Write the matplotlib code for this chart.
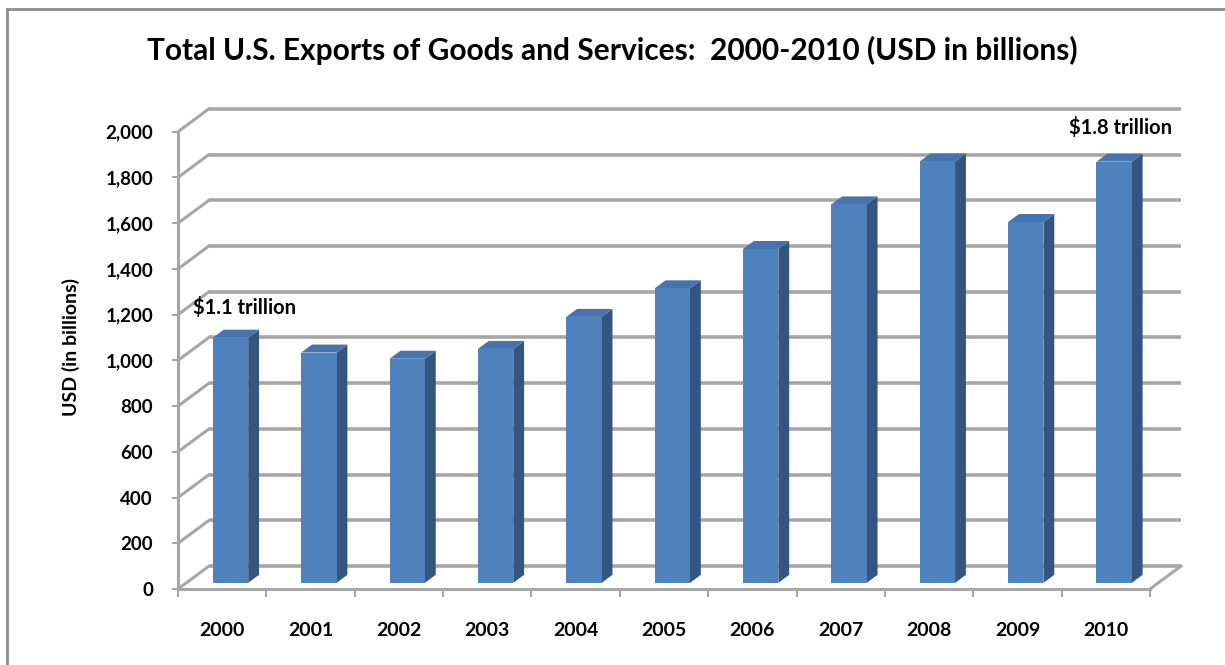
import matplotlib
matplotlib.use("Agg")
import matplotlib.pyplot as plt
from matplotlib.patches import Polygon, Rectangle
from matplotlib.lines import Line2D

plt.rcParams['font.family'] = ['Lato', 'DejaVu Sans']

# Total U.S. exports of goods and services, USD billions
years = ['2000', '2001', '2002', '2003', '2004', '2005',
         '2006', '2007', '2008', '2009', '2010']
exports = [1072, 1007, 980, 1023, 1163, 1288, 1460, 1655, 1843, 1578, 1842]
y_ticks = [0, 200, 400, 600, 800, 1000, 1200, 1400, 1600, 1800, 2000]
y_tick_labels = ['0', '200', '400', '600', '800', '1,000', '1,200',
                 '1,400', '1,600', '1,800', '2,000']
callouts = [('$1.1 trillion', 0.17, 1233, 'left'),
            ('$1.8 trillion', 11.25, 2020, 'right')]
title = 'Total U.S. Exports of Goods and Services:  2000-2010 (USD in billions)'
y_label = 'USD (in billions)'

# oblique depth offset of the chart floor, in data units
DX, DY = 0.35, 100.0
D0, D1 = 0.27, 0.62          # bar front / back depth fractions
BAR_W = 0.40                 # bar width in category units

GRID = '#A6A6A6'
FRONT = '#4F81BD'
SIDE = '#34557F'
TOP = '#4674AE'

fig = plt.figure(figsize=(12.25, 6.65), dpi=100)
ax = fig.add_axes([178 / 1225, 76 / 665, 11.45 * 88.36 / 1225, 2120 * 0.22865 / 665])
n = len(years)
ax.set_xlim(0, n + 0.45)
ax.set_ylim(0, 2120)

# back wall gridlines and left wall diagonals
for v in y_ticks:
    ax.add_line(Line2D([DX, n + DX], [v + DY, v + DY], color=GRID, lw=2.6,
                       zorder=1, solid_capstyle='butt'))
    ax.add_line(Line2D([0, DX], [v, v + DY], color=GRID, lw=2.2, zorder=1))
# floor right edge
ax.add_line(Line2D([n, n + DX], [0, DY], color=GRID, lw=2.2, zorder=1))

# columns
for i, v in enumerate(exports):
    xl = i + 0.5 - BAR_W / 2 + D0 * DX
    xr = xl + BAR_W
    y0 = D0 * DY
    top = y0 + v
    ddx, ddy = (D1 - D0) * DX, (D1 - D0) * DY
    ax.add_patch(Polygon([(xr, y0), (xr + ddx, y0 + ddy), (xr + ddx, top + ddy), (xr, top)],
                         closed=True, facecolor=SIDE, edgecolor='none', zorder=3))
    ax.add_patch(Polygon([(xl, top), (xr, top), (xr + ddx, top + ddy), (xl + ddx, top + ddy)],
                         closed=True, facecolor=TOP, edgecolor='none', zorder=3))
    ax.add_patch(Rectangle((xl, y0), BAR_W, v, facecolor=FRONT, edgecolor='none', zorder=4))

# axes: front vertical axis and floor edge
for side in ['top', 'right']:
    ax.spines[side].set_visible(False)
ax.spines['left'].set_bounds(0, 2000)
ax.spines['bottom'].set_bounds(0, n)
for side in ['left', 'bottom']:
    ax.spines[side].set_color(GRID)
    ax.spines[side].set_linewidth(2.2)
    ax.spines[side].set_zorder(2)

ax.set_yticks(y_ticks)
ax.set_yticklabels(y_tick_labels, fontsize=13.5, fontweight='bold')
ax.tick_params(axis='y', length=4, width=1.5, color=GRID, pad=14)

ax.set_xticks(range(n + 1))
ax.set_xticklabels([])
ax.set_xticks([i + 0.5 for i in range(n)], minor=True)
ax.set_xticklabels(years, minor=True, fontsize=14, fontweight='bold')
ax.tick_params(axis='x', which='major', length=6, width=1.5, color=GRID)
ax.tick_params(axis='x', which='minor', length=0, pad=24)

ax.set_ylabel(y_label, fontsize=14, fontweight='bold', labelpad=18)

for text, x, y, ha in callouts:
    ax.text(x, y, text, ha=ha, va='center', fontsize=14.5, fontweight='bold', zorder=5)

fig.text(0.5, 1 - 50 / 665, title, ha='center', va='center',
         fontsize=21.5, fontweight='bold')

# chart area frame
fig.add_artist(Line2D([7 / 1225, 1.0], [1 - 9 / 665, 1 - 9 / 665],
                      transform=fig.transFigure, color='#8C8C8C', lw=2.0))
fig.add_artist(Line2D([7 / 1225, 7 / 1225], [0.0, 1 - 9 / 665],
                      transform=fig.transFigure, color='#8C8C8C', lw=2.0))

fig.savefig('out.png', dpi=100)
